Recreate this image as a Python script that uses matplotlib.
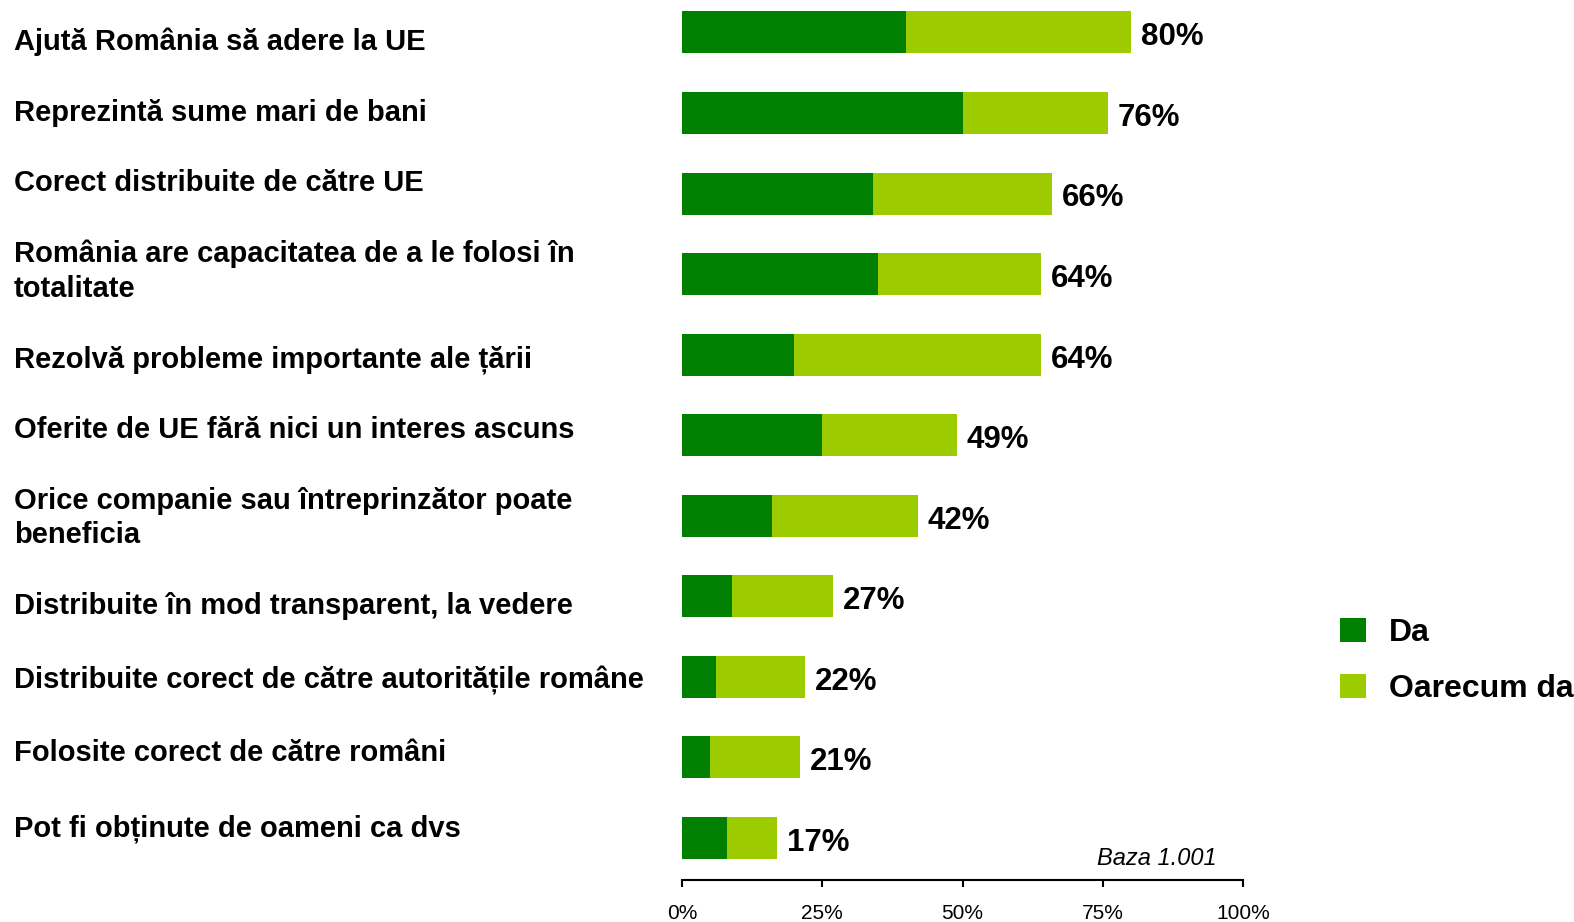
import matplotlib
matplotlib.use("Agg")
import matplotlib.pyplot as plt
from matplotlib.ticker import FuncFormatter

plt.rcParams["font.family"] = ["Liberation Sans", "DejaVu Sans"]

# categories, top to bottom (each entry = lines of the label)
categories = [
    ["Ajută România să adere la UE"],
    ["Reprezintă sume mari de bani"],
    ["Corect distribuite de către UE"],
    ["România are capacitatea de a le folosi în", "totalitate"],
    ["Rezolvă probleme importante ale țării"],
    ["Oferite de UE fără nici un interes ascuns"],
    ["Orice companie sau întreprinzător poate", "beneficia"],
    ["Distribuite în mod transparent, la vedere"],
    ["Distribuite corect de către autoritățile române"],
    ["Folosite corect de către români"],
    ["Pot fi obținute de oameni ca dvs"],
]
da = [40, 50, 34, 35, 20, 25, 16, 9, 6, 5, 8]
total = [80, 76, 66, 64, 64, 49, 42, 27, 22, 21, 17]
oarecum = [t - d for t, d in zip(total, da)]

xticks = [0, 25, 50, 75, 100]
series_names = ["Da", "Oarecum da"]
base_note = "Baza 1.001"

DARK = "#007f00"
LIGHT = "#9ccc00"

W, H = 1574, 922
fig = plt.figure(figsize=(W / 100, H / 100), dpi=100)

# axes placed in pixel terms of the reference
ax_left, ax_right, ax_top, ax_bottom = 682, 1243, 0, 880
ax = fig.add_axes([ax_left / W, (H - ax_bottom) / H,
                   (ax_right - ax_left) / W, (ax_bottom - ax_top) / H])

step = 80.55
first_center = 32.5
pos = list(range(len(categories)))
bar_h = 42 / step

ax.barh(pos, da, height=bar_h, color=DARK, label=series_names[0], linewidth=0)
ax.barh(pos, oarecum, left=da, height=bar_h, color=LIGHT, label=series_names[1], linewidth=0)

for p, t in zip(pos, total):
    ax.annotate(f"{t}%", xy=(t, p), xytext=(7, -3.5), textcoords="offset points",
                ha="left", va="center", fontsize=22.5, fontweight="bold")

ax.set_xlim(0, 100)
ax.set_ylim((ax_bottom - first_center) / step, (ax_top - first_center) / step)
ax.set_xticks(xticks)
ax.xaxis.set_major_formatter(FuncFormatter(lambda v, _: f"{v:.0f}%"))
ax.tick_params(axis="x", length=5, width=1.5, labelsize=15, pad=12)
ax.set_yticks([])
for s in ["top", "right", "left"]:
    ax.spines[s].set_visible(False)
ax.spines["bottom"].set_linewidth(1.5)
ax.set_facecolor("none")

# category labels (cap-centre y of each line, in pixels)
label_y = [[40], [111], [181], [252, 287], [357], [428], [499, 533],
           [604], [678], [751], [826]]
cap_half = 10.4
for lines, ys in zip(categories, label_y):
    for line, y in zip(lines, ys):
        fig.text(14 / W, 1 - (y + cap_half) / H, line, ha="left", va="baseline",
                 fontsize=21, fontweight="bold")

fig.text(1217 / W, 1 - 858 / H, base_note, ha="right", va="center",
         fontsize=17, style="italic")

leg = fig.legend(loc="center left", bbox_to_anchor=(1340 / W, 1 - 661 / H),
                 frameon=False, prop={"size": 23, "weight": "bold"},
                 handlelength=0.8, handleheight=0.8, handletextpad=0.72,
                 labelspacing=0.8, borderpad=0, borderaxespad=0)

fig.savefig("out.png", dpi=100)
